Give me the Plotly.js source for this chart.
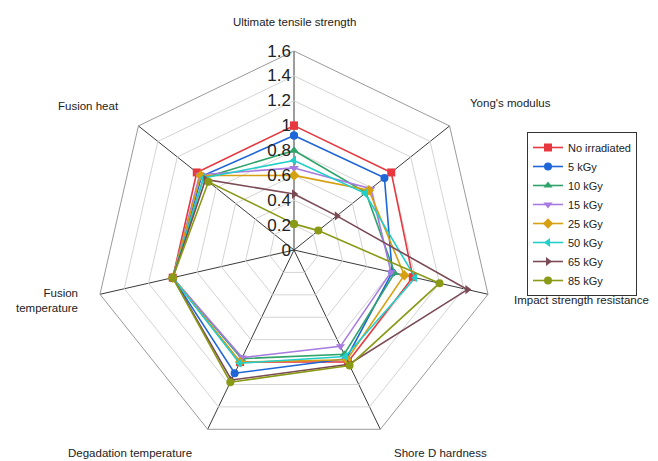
<!DOCTYPE html>
<html>
<head>
<meta charset="utf-8">
<script src="https://cdn.plot.ly/plotly-3.0.1.min.js"></script>
<style>
  html, body { margin: 0; padding: 0; background: #fff; }
  #chart { width: 658px; height: 461px; }
</style>
</head>
<body>
<div id="chart"></div>
<script>
// Radar categories, clockwise from the top
const properties = [
  "Ultimate tensile strength",
  "Yong's modulus",
  "Impact strength resistance",
  "Shore D hardness",
  "Degadation temperature",
  "Fusion temperature",
  "Fusion heat"
];

// Normalised property values (relative to the non-irradiated sample)
const noIrradiated = [1.00, 1.00, 0.98, 1.00, 1.00, 1.00, 1.00];
const dose5kGy     = [0.92, 0.93, 0.81, 0.97, 1.10, 1.00, 0.95];
const dose10kGy    = [0.80, 0.74, 0.83, 0.93, 0.97, 1.00, 0.93];
const dose15kGy    = [0.66, 0.79, 0.80, 0.86, 0.96, 1.00, 0.97];
const dose25kGy    = [0.60, 0.77, 0.91, 0.98, 1.00, 1.00, 0.96];
const dose50kGy    = [0.72, 0.73, 1.00, 0.95, 1.01, 1.00, 0.93];
const dose65kGy    = [0.45, 0.44, 1.43, 1.02, 1.16, 1.00, 0.91];
const dose85kGy    = [0.21, 0.25, 1.20, 1.03, 1.18, 1.00, 0.88];

const seriesNames = ["No irradiated", "5 kGy", "10 kGy", "15 kGy", "25 kGy", "50 kGy", "65 kGy", "85 kGy"];
const seriesValues = [noIrradiated, dose5kGy, dose10kGy, dose15kGy, dose25kGy, dose50kGy, dose65kGy, dose85kGy];

const radialTicks = [0, 0.2, 0.4, 0.6, 0.8, 1, 1.2, 1.4, 1.6];

// Styling
const colors  = ["#E8383F", "#1F66D6", "#2FA36A", "#A77BE0", "#D6A010", "#22CEC8", "#7A4A55", "#8A9A16"];
const symbols = ["square", "circle", "triangle-up", "triangle-down", "diamond", "triangle-left", "triangle-right", "circle"];

const W = 658, H = 461;
const cx = 294, cy = 250, R = 199;

const traces = seriesNames.map((name, i) => ({
  type: "scatterpolar",
  name: name,
  r: seriesValues[i].concat([seriesValues[i][0]]),
  theta: properties.concat([properties[0]]),
  mode: "lines+markers",
  line: { color: colors[i], width: 1.6 },
  marker: { color: colors[i], symbol: symbols[i], size: 8 },
  cliponaxis: false
}));

// Category label anchors in pixels: [x, y, xanchor]
const labelPos = [
  [294, 22, "center"],
  [511, 103, "center"],
  [581, 300, "center"],
  [440, 453, "center"],
  [130, 453, "center"],
  [80, 300, "right"],
  [88, 106, "center"]
];

const annotations = properties.map((p, i) => ({
  xref: "paper", yref: "paper",
  x: labelPos[i][0] / W,
  y: 1 - labelPos[i][1] / H,
  xanchor: labelPos[i][2],
  yanchor: "middle",
  align: "right",
  showarrow: false,
  text: p === "Fusion temperature" ? "Fusion<br>temperature" : p,
  font: { family: "Liberation Sans, Arial, sans-serif", size: 11.5, color: "#222" }
}));

const layout = {
  width: W, height: H,
  margin: { l: 0, r: 0, t: 0, b: 0 },
  paper_bgcolor: "#fff",
  font: { family: "Liberation Sans, Arial, sans-serif", color: "#222" },
  showlegend: true,
  legend: {
    x: 527 / W, y: 1 - 132 / H,
    xanchor: "left", yanchor: "top",
    bordercolor: "#333", borderwidth: 1,
    bgcolor: "#fff",
    font: { size: 11, color: "#222" },
    tracegroupgap: 0,
    itemwidth: 30
  },
  polar: {
    domain: { x: [(cx - R) / W, (cx + R) / W], y: [1 - (cy + R) / H, 1 - (cy - R) / H] },
    gridshape: "linear",
    bgcolor: "#fff",
    radialaxis: {
      range: [0, 1.6],
      tickvals: radialTicks,
      ticktext: radialTicks.map(v => String(v)),
      angle: 90,
      tickangle: 90,
      side: "counterclockwise",
      showline: false,
      ticks: "",
      gridcolor: "#d4d4d4",
      gridwidth: 1,
      tickfont: { size: 17, color: "#222" }
    },
    angularaxis: {
      type: "category",
      direction: "clockwise",
      rotation: 90,
      showticklabels: false,
      ticks: "",
      gridcolor: "#3a3a3a",
      gridwidth: 1,
      linecolor: "#9a9a9a",
      linewidth: 1
    }
  },
  annotations: annotations
};

Plotly.newPlot("chart", traces, layout, { displayModeBar: false, staticPlot: true });
</script>
</body>
</html>
